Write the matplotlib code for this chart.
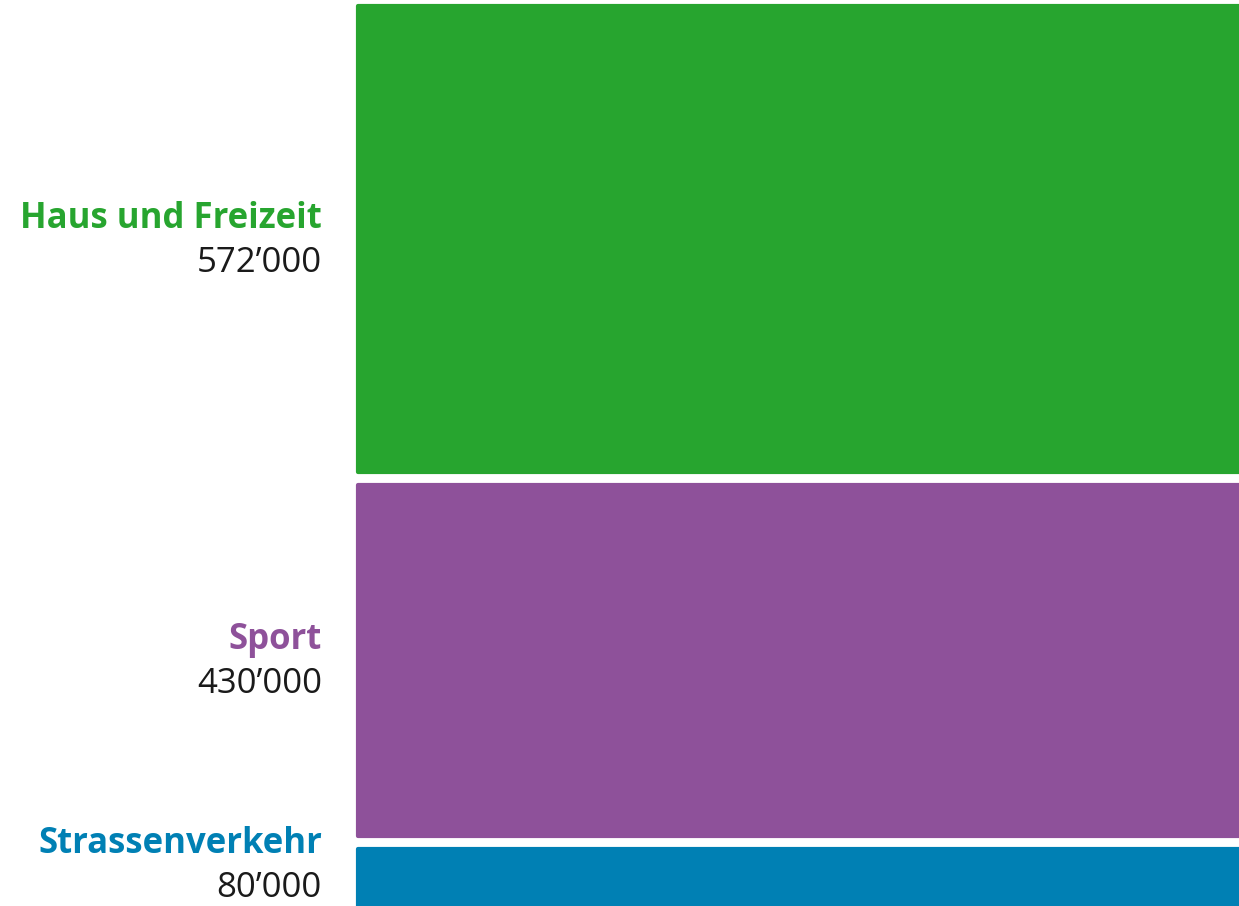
import numpy as np
import matplotlib
matplotlib.use("Agg")
import matplotlib.pyplot as plt

# Unfälle nach Bereich
categories = ["Haus und Freizeit", "Sport", "Strassenverkehr"]
values = [572000, 430000, 80000]
value_labels = ["572’000", "430’000", "80’000"]
colors = ["#27a52f", "#8e519a", "#0080b4"]

plt.rcParams['font.family'] = ['Open Sans', 'DejaVu Sans']

fig = plt.figure(figsize=(12.39, 9.06), dpi=100)
ax = fig.add_axes([355 / 1239, 0, 1 - 355 / 1239 + 0.02, 1])

gap = 16000
bottoms = np.concatenate([[0], np.cumsum(np.array(values[:-1]) + gap)])
ax.bar(np.zeros(len(values)), values, bottom=bottoms, width=1.0, align='edge',
       color=colors, edgecolor=colors, linewidth=3, joinstyle='round')

ax.set_xlim(-0.003, 1)
ax.set_ylim(1104250, -7400)
ax.axis('off')

# label block centred on its band, kept inside the picture
lab_x = 322
for cat, lab, col, b, v in zip(categories, value_labels, colors, bottoms, values):
    yc = ax.transData.transform((0, b + v / 2))[1]
    yc = max(yc, 42)
    ax.annotate(cat, xy=(lab_x, yc + 20), xycoords='figure pixels',
                ha='right', va='center', fontsize=25, fontweight='bold', color=col)
    ax.annotate(lab, xy=(lab_x, yc - 24), xycoords='figure pixels',
                ha='right', va='center', fontsize=25, color='#1a1a1a')

fig.savefig("out.png", dpi=100)
